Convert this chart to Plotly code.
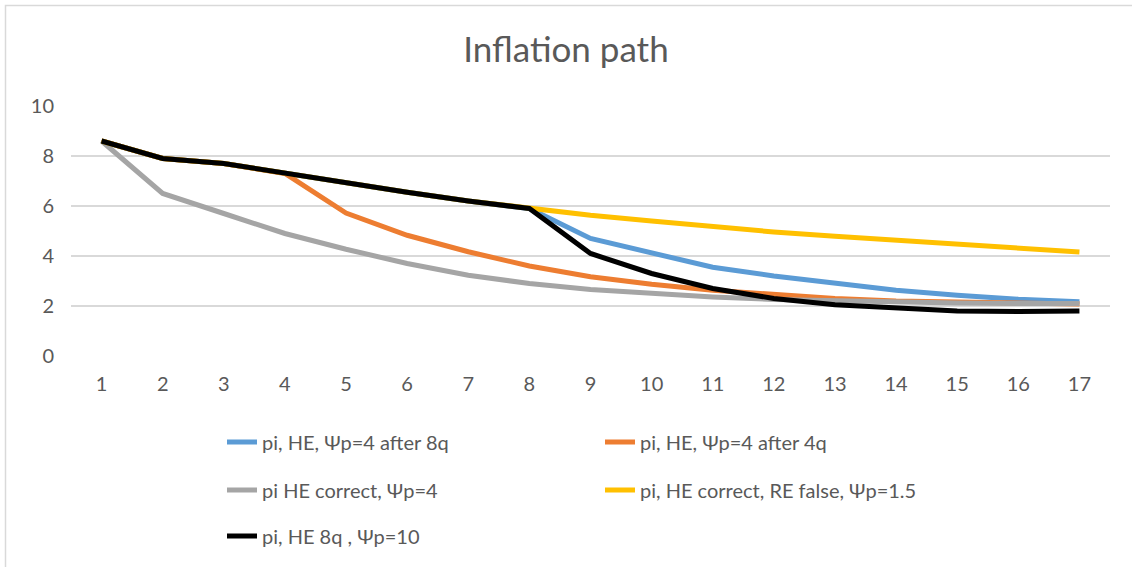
import plotly.graph_objects as go

periods = list(range(1, 18))
tick_labels = [str(p) for p in periods]

pi_he_psi4_after8q = [8.6, 7.9, 7.7, 7.3, 6.9, 6.55, 6.2, 5.9, 4.7, 4.1, 3.55, 3.2, 2.9, 2.63, 2.43, 2.27, 2.17]
pi_he_psi4_after4q = [8.6, 7.9, 7.7, 7.3, 5.72, 4.83, 4.17, 3.6, 3.17, 2.87, 2.63, 2.45, 2.3, 2.2, 2.15, 2.1, 2.08]
pi_he_correct_psi4 = [8.6, 6.5, 5.7, 4.9, 4.27, 3.7, 3.23, 2.9, 2.66, 2.5, 2.36, 2.26, 2.2, 2.15, 2.12, 2.1, 2.1]
pi_he_correct_re_false = [8.6, 7.9, 7.7, 7.3, 6.9, 6.55, 6.2, 5.9, 5.63, 5.4, 5.16, 4.96, 4.79, 4.63, 4.47, 4.31, 4.16]
pi_he_8q_psi10 = [8.6, 7.9, 7.7, 7.3, 6.9, 6.55, 6.2, 5.9, 4.1, 3.3, 2.7, 2.3, 2.05, 1.9, 1.8, 1.78, 1.8]

series = [
    ("pi, HE, Ψp=4 after 8q", pi_he_psi4_after8q, "#5B9BD5", "legend"),
    ("pi, HE, Ψp=4 after 4q", pi_he_psi4_after4q, "#ED7D31", "legend2"),
    ("pi HE correct, Ψp=4", pi_he_correct_psi4, "#A5A5A5", "legend3"),
    ("pi, HE correct, RE false, Ψp=1.5", pi_he_correct_re_false, "#FFC000", "legend4"),
    ("pi, HE 8q , Ψp=10", pi_he_8q_psi10, "#000000", "legend5"),
]

FONT = "Lato, Carlito, Calibri, sans-serif"
TXT = "#595959"

fig = go.Figure()
for name, vals, color, leg in series:
    fig.add_trace(go.Scatter(
        x=periods, y=vals, name=name, mode="lines",
        line=dict(color=color, width=5),
        legend=leg, showlegend=True,
    ))

L, R, T, B = 71, 22, 106, 211
W, H = 1132, 567
pw = W - L - R
ph = H - T - B

def px_x(px):
    return (px - L) / pw

def px_y(py):
    return (H - B - py) / ph

leg_common = dict(font=dict(family=FONT, size=20, color=TXT), bgcolor="rgba(0,0,0,0)",
                  xanchor="left", yanchor="middle", orientation="h", visible=True)

fig.update_layout(
    width=W, height=H,
    showlegend=True,
    margin=dict(l=L, r=R, t=T, b=B),
    paper_bgcolor="white", plot_bgcolor="white",
    title=dict(text="Inflation path", x=0.5, xanchor="center", y=1 - 50 / H, yanchor="middle",
               font=dict(family=FONT, size=35, color=TXT)),
    font=dict(family=FONT, color=TXT),
    xaxis=dict(
        range=[0.5, 17.5], tickmode="array", tickvals=periods, ticktext=tick_labels,
        showgrid=False, zeroline=False, showline=False, ticks="",
        tickfont=dict(family=FONT, size=20, color=TXT), ticklabelstandoff=14,
    ),
    yaxis=dict(
        range=[0, 10], tickmode="linear", tick0=0, dtick=2,
        showgrid=True, gridcolor="#D9D9D9", gridwidth=1.5, zeroline=False, showline=False,
        ticks="", tickfont=dict(family=FONT, size=20, color=TXT), ticklabelstandoff=16,
    ),
    legend=dict(x=px_x(222), y=px_y(442), **leg_common),
    legend2=dict(x=px_x(600), y=px_y(442), **leg_common),
    legend3=dict(x=px_x(222), y=px_y(490), **leg_common),
    legend4=dict(x=px_x(600), y=px_y(490), **leg_common),
    legend5=dict(x=px_x(222), y=px_y(536), **leg_common),
    shapes=[dict(type="rect", xref="paper", yref="paper",
                 x0=px_x(5.5), x1=px_x(1160), y0=px_y(600), y1=px_y(5.5),
                 line=dict(color="#D9D9D9", width=1.5), fillcolor="rgba(0,0,0,0)", layer="below")],
)

fig.write_html("out.html")
